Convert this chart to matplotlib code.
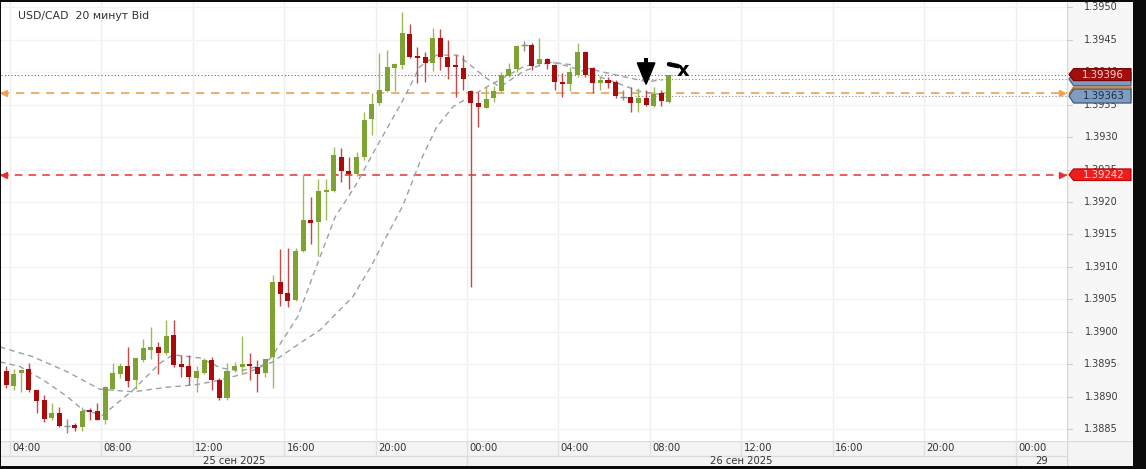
import matplotlib
matplotlib.use("Agg")
import matplotlib.pyplot as plt
from matplotlib.patches import Polygon, Rectangle
import numpy as np

# ---------------- data ----------------
title = "USD/CAD  20 минут Bid"
opens = [1.38955, 1.38940, 1.38917, 1.38937, 1.38943, 1.38910, 1.38895, 1.38868, 1.38875, 1.38855,
         1.38857, 1.38854, 1.38879, 1.38879, 1.38865, 1.38912, 1.38936, 1.38947, 1.38926, 1.38957,
         1.38973, 1.38977, 1.38967, 1.38995, 1.38950, 1.38948, 1.38929, 1.38937, 1.38957, 1.38926,
         1.38898, 1.38942, 1.38947, 1.38950, 1.38946, 1.38937, 1.38962, 1.39077, 1.39060, 1.39049,
         1.39124, 1.39172, 1.39170, 1.39216, 1.39217, 1.39270, 1.39248, 1.39243, 1.39269, 1.39327,
         1.39352, 1.39371, 1.39406, 1.39411, 1.39458, 1.39425, 1.39423, 1.39414, 1.39453, 1.39423,
         1.39411, 1.39406, 1.39371, 1.39353, 1.39345, 1.39360, 1.39371, 1.39394, 1.39404, 1.39442,
         1.39442, 1.39413, 1.39420, 1.39411, 1.39385, 1.39382, 1.39395, 1.39431, 1.39406, 1.39383,
         1.39387, 1.39385, 1.39362, 1.39362, 1.39353, 1.39360, 1.39347, 1.39368, 1.39354]
highs = [1.38958, 1.38947, 1.38943, 1.38943, 1.38952, 1.38911, 1.38903, 1.38891, 1.38885, 1.38866,
         1.38860, 1.38885, 1.38883, 1.38891, 1.38917, 1.38952, 1.38953, 1.38977, 1.38960, 1.38989,
         1.39008, 1.38985, 1.39018, 1.39018, 1.38965, 1.38965, 1.38947, 1.38960, 1.38962, 1.38929,
         1.38952, 1.38954, 1.38994, 1.38967, 1.38957, 1.38958, 1.39088, 1.39127, 1.39129, 1.39129,
         1.39242, 1.39207, 1.39235, 1.39235, 1.39285, 1.39283, 1.39270, 1.39277, 1.39338, 1.39367,
         1.39429, 1.39434, 1.39414, 1.39493, 1.39474, 1.39439, 1.39431, 1.39467, 1.39466, 1.39449,
         1.39426, 1.39426, 1.39372, 1.39370, 1.39378, 1.39378, 1.39400, 1.39414, 1.39442, 1.39447,
         1.39444, 1.39453, 1.39421, 1.39413, 1.39398, 1.39408, 1.39444, 1.39433, 1.39407, 1.39393,
         1.39393, 1.39388, 1.39372, 1.39377, 1.39375, 1.39372, 1.39377, 1.39372, 1.39396]
lows = [1.38938, 1.38914, 1.38911, 1.38907, 1.38908, 1.38875, 1.38862, 1.38865, 1.38854, 1.38845,
        1.38847, 1.38847, 1.38865, 1.38864, 1.38858, 1.38911, 1.38929, 1.38916, 1.38913, 1.38954,
        1.38958, 1.38935, 1.38965, 1.38946, 1.38931, 1.38918, 1.38908, 1.38936, 1.38910, 1.38896,
        1.38896, 1.38939, 1.38936, 1.38926, 1.38908, 1.38931, 1.38914, 1.39040, 1.39038, 1.39048,
        1.39123, 1.39135, 1.39117, 1.39173, 1.39216, 1.39231, 1.39220, 1.39240, 1.39265, 1.39303,
        1.39349, 1.39370, 1.39371, 1.39404, 1.39422, 1.39383, 1.39385, 1.39402, 1.39403, 1.39390,
        1.39362, 1.39373, 1.39069, 1.39316, 1.39344, 1.39354, 1.39369, 1.39393, 1.39400, 1.39433,
        1.39403, 1.39409, 1.39404, 1.39372, 1.39362, 1.39371, 1.39393, 1.39393, 1.39367, 1.39372,
        1.39375, 1.39360, 1.39357, 1.39339, 1.39339, 1.39348, 1.39346, 1.39348, 1.39353]
closes = [1.38942, 1.38918, 1.38935, 1.38942, 1.38910, 1.38894, 1.38866, 1.38875, 1.38855, 1.38855,
          1.38853, 1.38879, 1.38877, 1.38865, 1.38916, 1.38937, 1.38947, 1.38925, 1.38960, 1.38975,
          1.38977, 1.38967, 1.38994, 1.38949, 1.38946, 1.38930, 1.38940, 1.38957, 1.38926, 1.38898,
          1.38940, 1.38947, 1.38950, 1.38948, 1.38936, 1.38958, 1.39077, 1.39058, 1.39047, 1.39125,
          1.39172, 1.39168, 1.39217, 1.39218, 1.39272, 1.39248, 1.39243, 1.39269, 1.39326, 1.39351,
          1.39372, 1.39408, 1.39412, 1.39460, 1.39423, 1.39422, 1.39414, 1.39453, 1.39423, 1.39407,
          1.39408, 1.39389, 1.39352, 1.39346, 1.39358, 1.39371, 1.39396, 1.39404, 1.39440, 1.39442,
          1.39410, 1.39420, 1.39412, 1.39384, 1.39382, 1.39400, 1.39431, 1.39395, 1.39383, 1.39387,
          1.39383, 1.39363, 1.39362, 1.39353, 1.39360, 1.39349, 1.39366, 1.39356, 1.39396]

# moving averages (read at sample candle positions)
ma_fast_idx = [0.2, 2.8, 5.9, 9.0, 11.1, 13.7, 17.7, 21.2, 22.9, 26.5, 29.1, 31.7, 34.7, 35.9,
               39.3, 41.9, 44.2, 46.8, 49.4, 53.1, 55.3, 57.5, 60.2, 61.9, 64.1, 65.8, 68.9,
               72.4, 75.0, 77.6, 81.2, 84.2, 87.2]
ma_fast_val = [1.38954, 1.38947, 1.38926, 1.38901, 1.38880, 1.38872, 1.38911, 1.38952, 1.38965,
               1.38960, 1.38945, 1.38940, 1.38949, 1.38962, 1.39024, 1.39106, 1.39177, 1.39224,
               1.39280, 1.39357, 1.39408, 1.39426, 1.39426, 1.39411, 1.39390, 1.39377, 1.39401,
               1.39416, 1.39408, 1.39398, 1.39383, 1.39370, 1.39365]
ma_slow_idx = [0.2, 4.5, 9.0, 13.3, 17.7, 22.1, 26.0, 29.1, 32.6, 36.0, 39.6, 42.2, 46.5, 49.0,
               50.7, 53.1, 55.3, 57.5, 59.7, 61.9, 64.1, 65.8, 68.9, 71.5, 75.4, 79.0, 82.0,
               85.1, 87.2]
ma_slow_val = [1.38977, 1.38962, 1.38939, 1.38912, 1.38908, 1.38915, 1.38919, 1.38926, 1.38937,
               1.38954, 1.38983, 1.39003, 1.39054, 1.39103, 1.39142, 1.39195, 1.39261, 1.39315,
               1.39347, 1.39362, 1.39377, 1.39388, 1.39408, 1.39416, 1.39411, 1.39401, 1.39393,
               1.39385, 1.39388]

price_ticks = [1.3950, 1.3945, 1.3940, 1.3935, 1.3930, 1.3925, 1.3920, 1.3915,
               1.3910, 1.3905, 1.3900, 1.3895, 1.3890, 1.3885]
time_labels = ["04:00", "08:00", "12:00", "16:00", "20:00", "00:00",
               "04:00", "08:00", "12:00", "16:00", "20:00", "00:00"]
date_labels = ["25 сен 2025", "26 сен 2025", "29"]

bid_price = 1.39396
ask_line = 1.39389
blue_level = 1.39363
orange_level = 1.39367
red_level = 1.39242

# ---------------- layout ----------------
W, H = 1146, 469
fig = plt.figure(figsize=(W / 100, H / 100), dpi=100, facecolor="#0b0b0b")


def box(x0, y0, x1, y1):
    return [x0 / W, 1 - y1 / H, (x1 - x0) / W, (y1 - y0) / H]


ax = fig.add_axes(box(1, 2, 1067, 441))
axr = fig.add_axes(box(1067, 2, 1133, 441))
axb = fig.add_axes(box(1, 441, 1067, 466))
axc = fig.add_axes(box(1067, 441, 1133, 466))

YMIN, YMAX = 1.388323, 1.395077
XMIN, XMAX = 0.34, 140.24
n = len(opens)

for a in (ax, axr, axb, axc):
    for s in a.spines.values():
        s.set_visible(False)
    a.set_xticks([])
    a.set_yticks([])

ax.set_facecolor("white")
ax.set_xlim(XMIN, XMAX)
ax.set_ylim(YMIN, YMAX)

# grid
grid_pos = [1.5 + 12 * k for k in range(len(time_labels))]
for g in grid_pos:
    ax.axvline(g, color="#efefef", lw=1, zorder=0)
for p in price_ticks:
    ax.axhline(p, color="#f3f3f3", lw=1, zorder=0)

# moving averages
ax.plot(ma_slow_idx, ma_slow_val, color="#9aa1a9", lw=1.0, ls=(0, (4, 3)), zorder=2)
ax.plot(ma_fast_idx, ma_fast_val, color="#9aa1a9", lw=1.0, ls=(0, (4, 3)), zorder=2)

# horizontal levels
ax.axhline(bid_price, color="#6a6a6a", lw=0.8, ls=(0, (1, 2)), zorder=1)
ax.hlines([ask_line, blue_level], 83.5, XMAX, color="#8a8a8a", lw=0.8, ls=(0, (1, 2)), zorder=1)
ax.axhline(orange_level, color="#f0a050", lw=1.2, ls=(0, (5, 4)), zorder=1)
ax.axhline(red_level, color="#e53030", lw=1.1, ls=(0, (5, 4)), zorder=1)
for lvl, col in ((orange_level, "#f0a050"), (red_level, "#e53030")):
    ax.plot([XMIN + 0.45], [lvl], marker="<", ms=5, color=col, mec=col, zorder=3, clip_on=False)
    ax.plot([XMAX - 0.6], [lvl], marker=">", ms=5, color=col, mec=col, zorder=3, clip_on=False)

# candles
GREEN, RED, GREY = "#7fa333", "#ab0a0a", "#8a8a8a"
GREEN_W, RED_W = "#9dbb5c", "#c24a4a"
for i in range(n):
    o, h, l, c = opens[i], highs[i], lows[i], closes[i]
    if abs(c - o) < 1e-7:
        ax.vlines(i, l, h, color=GREY, lw=1, zorder=3)
        ax.hlines(o, i - 0.45, i + 0.45, color=GREY, lw=1, zorder=3)
        continue
    up = c > o
    col = GREEN if up else RED
    wcol = GREEN_W if up else RED_W
    ax.vlines(i, l, h, color=wcol, lw=1, zorder=3)
    hgt = max(abs(c - o), 0.000035)
    bot = min(o, c) if abs(c - o) > 0.000035 else (o + c) / 2 - hgt / 2
    ax.add_patch(Rectangle((i - 0.33, bot), 0.66, hgt, facecolor=col, edgecolor="none", zorder=4))

# drawn annotations (arrow above candle 85, mark right of last candle)
ai = 85
tip = highs[ai] + 0.00009
ax.add_patch(Polygon([(ai - 1.15, tip + 0.00033), (ai + 1.15, tip + 0.00033), (ai, tip)],
                     closed=True, facecolor="black", edgecolor="black", zorder=6))
ax.add_patch(Rectangle((ai - 0.25, tip + 0.00032), 0.5, 0.00008, facecolor="black", zorder=6))
li = n - 1
mk = highs[li] + 0.00016
ax.plot([li + 0.0, li + 1.2], [mk, mk - 0.00003], color="black", lw=3.2, solid_capstyle="round", zorder=6)
ax.text(li + 1.9, mk - 0.00009, "x", fontsize=14, fontweight="bold", color="black",
        ha="center", va="center", zorder=6)

# title
ax.text(17 / 1066, 1 - 14 / 439, title, transform=ax.transAxes, fontsize=7.8,
        color="#333333", ha="left", va="center")

# ---------------- right price panel ----------------
axr.set_facecolor("#f7f7f7")
axr.set_xlim(0, 1)
axr.set_ylim(YMIN, YMAX)
axr.axvline(0.005, color="#d8d8d8", lw=1)
for p in price_ticks:
    axr.text(0.52, p, f"{p:.4f}", fontsize=7, color="#3c3c3c", ha="center", va="center")
    axr.plot([0.0, 0.07], [p, p], color="#cfcfcf", lw=0.8)

px_price = 0.0005 / 32.5


def tag(level, half_px, fc, ec, tc, label=None):
    hh = half_px * px_price
    top = level + hh
    bot = level - hh
    pts = [(0.03, level), (0.10, top), (0.97, top), (0.97, bot), (0.10, bot)]
    axr.add_patch(Polygon(pts, closed=True, facecolor=fc, edgecolor=ec, lw=0.8, zorder=5))
    if label:
        axr.text(0.55, level, label, fontsize=7.3, color=tc, ha="center", va="center", zorder=6)


tag(orange_level, 6.5, "#f0a050", "#c07020", "#000000")
tag(ask_line, 6.5, "#7f9dc2", "#4a5a70", "#1f2f44")
tag(blue_level, 7.0, "#7f9dc2", "#3d4d60", "#1c2c40", f"{blue_level:.5f}")
tag(bid_price, 6.0, "#a30d0d", "#7a0000", "#ffd6d6", f"{bid_price:.5f}")
tag(red_level, 5.8, "#ee1d1d", "#c00000", "#ffd0d0", f"{red_level:.5f}")

# ---------------- bottom time band ----------------
axb.set_facecolor("#f4f4f4")
axb.set_xlim(XMIN, XMAX)
axb.set_ylim(0, 1)
axb.axhline(0.99, color="#dcdcdc", lw=1)
axb.axhline(0.42, color="#dcdcdc", lw=1)
for g, lab in zip(grid_pos, time_labels):
    axb.vlines(g, 0.42, 1.0, color="#e0e0e0", lw=1)
    axb.text(g + 0.3, 0.71, lab, fontsize=7.2, color="#333333", ha="left", va="center")
day_breaks = [grid_pos[5], grid_pos[11]]
for d in day_breaks:
    axb.vlines(d, 0.0, 0.42, color="#dcdcdc", lw=1)
day_spans = [(XMIN, day_breaks[0]), (day_breaks[0], day_breaks[1]), (day_breaks[1], XMAX)]
for (a0, a1), lab in zip(day_spans, date_labels):
    axb.text((a0 + a1) / 2, 0.2, lab, fontsize=7.2, color="#333333", ha="center", va="center")

axc.set_facecolor("#f4f4f4")
axc.set_xlim(0, 1)
axc.set_ylim(0, 1)
axc.axvline(0.005, color="#d8d8d8", lw=1)
axc.axhline(0.99, color="#dcdcdc", lw=1)

fig.savefig("out.png", dpi=100, facecolor=fig.get_facecolor())
